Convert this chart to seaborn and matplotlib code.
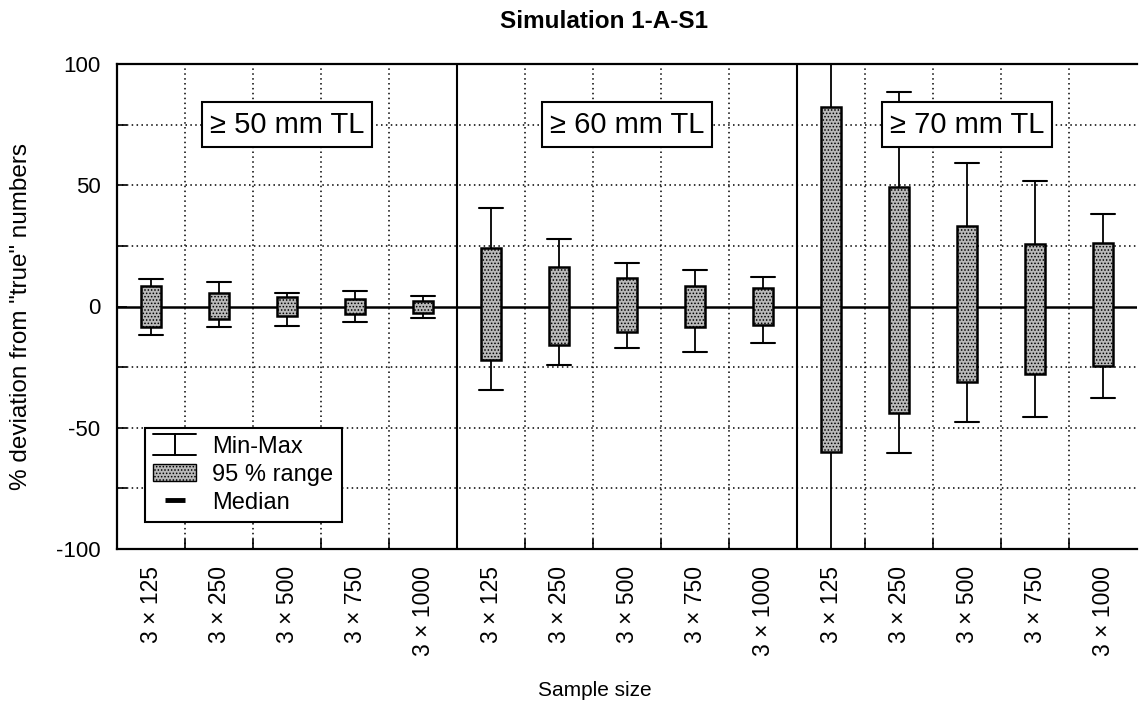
import numpy as np
import pandas as pd
import matplotlib
matplotlib.use("Agg")
import matplotlib.pyplot as plt
import seaborn as sns
from matplotlib.lines import Line2D
from matplotlib.patches import Patch
from matplotlib.legend_handler import HandlerBase

# ---------------- data ----------------
groups = ["≥ 50 mm TL", "≥ 60 mm TL", "≥ 70 mm TL"]
sizes = ["3 × 125", "3 × 250", "3 × 500", "3 × 750", "3 × 1000"]

min_vals = [-11.8, -8.6, -7.9, -6.3, -4.9,
            -34.4, -24.1, -17.3, -18.6, -15.2,
            -110.0, -60.3, -47.5, -45.4, -37.9]
lo95 = [-8.3, -5.3, -3.9, -3.1, -2.8,
        -22.1, -15.9, -10.7, -8.6, -7.6,
        -59.9, -43.8, -31.1, -27.8, -24.4]
median = [0.0, 0.0, 0.0, 0.0, 0.0,
          0.0, 0.0, 0.0, 0.0, 0.0,
          -8.7, -1.0, 0.9, -1.4, -0.3]
hi95 = [8.5, 5.4, 4.0, 3.1, 2.4,
        24.0, 16.4, 11.6, 8.6, 7.8,
        82.1, 49.4, 33.3, 25.8, 26.0]
max_vals = [11.3, 10.0, 5.7, 6.4, 4.3,
            40.7, 27.7, 18.1, 15.1, 12.0,
            110.0, 88.6, 59.3, 51.9, 38.1]

title = "Simulation 1-A-S1"
ylabel = '% deviation from "true" numbers'
xlabel = "Sample size"
legend_labels = ["Min-Max", "95 % range", "Median"]

# -------- long-form table (5 summary values per box) --------
rows = []
keys = []
for gi, g in enumerate(groups):
    for si, s in enumerate(sizes):
        i = gi * len(sizes) + si
        key = f"{g}|{s}"
        keys.append(key)
        for v in (min_vals[i], lo95[i], median[i], hi95[i], max_vals[i]):
            rows.append({"cat": key, "value": v})
df = pd.DataFrame(rows)

# ---------------- style ----------------
sns.set_style("white")
plt.rcParams["font.family"] = ["Liberation Sans", "DejaVu Sans"]
plt.rcParams["hatch.linewidth"] = 0.7
for k in ["text.color", "axes.labelcolor", "xtick.color", "ytick.color"]:
    plt.rcParams[k] = "black"

fig = plt.figure(figsize=(11.39, 7.05), dpi=100)
ax = fig.add_axes([117 / 1139, 1 - 549 / 705, 1020 / 1139, 485 / 705])

box_fc = "#b9b9b9"
box_w = 0.3
sns.boxplot(data=df, x="cat", y="value", order=keys, whis=(0, 100),
            width=box_w, color=box_fc, saturation=1, linecolor="black",
            linewidth=1.8, showfliers=False, ax=ax,
            medianprops=dict(linewidth=3.2),
            whiskerprops=dict(linewidth=1.3),
            capprops=dict(linewidth=1.5))

for c in ax.containers:
    if hasattr(c, "boxes"):
        for b in c.boxes:
            b.set_hatch(".....")
            b.set_zorder(3)
    if hasattr(c, "caps"):
        # widen caps slightly beyond the box width (scaled about their centre)
        for cap in c.caps:
            xd = np.asarray(cap.get_xdata(), dtype=float)
            mid = xd.mean()
            half = (xd.max() - xd.min()) / 2
            cap.set_xdata(mid + (xd - mid) * (1.15 * box_w / 2) / half)

ax.set_xlim(-0.5, len(keys) - 0.5)
ax.set_ylim(-100, 100)

# ticks & grid
ax.set_xticks(range(len(keys)))
ax.set_xticklabels(sizes * len(groups), rotation=90, fontsize=16.5)
ax.set_xticks(np.arange(0.5, len(keys) - 1, 1.0), minor=True)
ax.set_yticks(np.arange(-100, 101, 50))
ax.set_yticklabels([str(int(v)) for v in np.arange(-100, 101, 50)], fontsize=16)
ax.set_yticks(np.arange(-75, 100, 25), minor=True)
ax.tick_params(axis="x", which="major", length=0, pad=12)
ax.tick_params(axis="x", which="minor", direction="in", length=7, width=1.2, bottom=True)
ax.tick_params(axis="y", which="both", direction="in", length=7, width=1.2, left=True, pad=12)
ax.grid(False)
for yv in np.arange(-75, 100, 25):
    if yv != 0:
        ax.axhline(yv, color="black", lw=1.1, ls=(0, (1, 2.2)), zorder=0.5)
for k in range(1, len(keys)):
    xv = k - 0.5
    if k % len(sizes) == 0:
        ax.axvline(xv, color="black", lw=1.5, zorder=1)
    else:
        ax.axvline(xv, color="black", lw=1.1, ls=(0, (1, 2.2)), zorder=0.5)
ax.axhline(0, color="black", lw=1.8, zorder=2)

for side in ["left", "top", "bottom"]:
    ax.spines[side].set_linewidth(1.6)
    ax.spines[side].set_color("black")
ax.spines["right"].set_visible(False)

ax.set_xlabel("")
ax.set_ylabel("")

# group label boxes
for gi, g in enumerate(groups):
    ax.text(gi * len(sizes) + 2, 75, g, ha="center", va="center", fontsize=21,
            zorder=6,
            bbox=dict(boxstyle="square,pad=0.28", fc="white", ec="black", lw=1.5))


# legend
class MinMaxHandler(HandlerBase):
    def create_artists(self, legend, orig_handle, xdescent, ydescent,
                       width, height, fontsize, trans):
        x0, x1 = -xdescent, -xdescent + width
        xm = (x0 + x1) / 2
        y0, y1 = -ydescent - 0.15 * height, -ydescent + 1.15 * height
        arts = [Line2D([x0, x1], [y0, y0], color="black", lw=1.4),
                Line2D([x0, x1], [y1, y1], color="black", lw=1.4),
                Line2D([xm, xm], [y0, y1], color="black", lw=1.4)]
        for a in arts:
            a.set_transform(trans)
        return arts


h_minmax = Line2D([], [], color="black")
h_range = Patch(facecolor=box_fc, edgecolor="black", hatch=".....", lw=1.0)
h_med = Line2D([], [], color="black", marker="_", markersize=15,
               markeredgewidth=3.5, linestyle="None")
leg = ax.legend([h_minmax, h_range, h_med], legend_labels,
                handler_map={h_minmax: MinMaxHandler()},
                loc="lower left", bbox_to_anchor=(0.0275, 0.056),
                borderaxespad=0, fontsize=17, frameon=True, fancybox=False,
                framealpha=1, edgecolor="black", handlelength=1.8,
                handletextpad=0.7, labelspacing=0.25, borderpad=0.35)
leg.get_frame().set_linewidth(1.5)
leg.set_zorder(7)

# titles
fig.text(604 / 1139, 1 - 22 / 705, title, ha="center", va="center",
         fontsize=17.5, fontweight="bold")
fig.text(21 / 1139, 1 - 317 / 705, ylabel, rotation=90, ha="center",
         va="center", fontsize=17.5)
fig.text(595 / 1139, 1 - 691 / 705, xlabel, ha="center", va="center",
         fontsize=15)

fig.savefig("out.png", dpi=100)
